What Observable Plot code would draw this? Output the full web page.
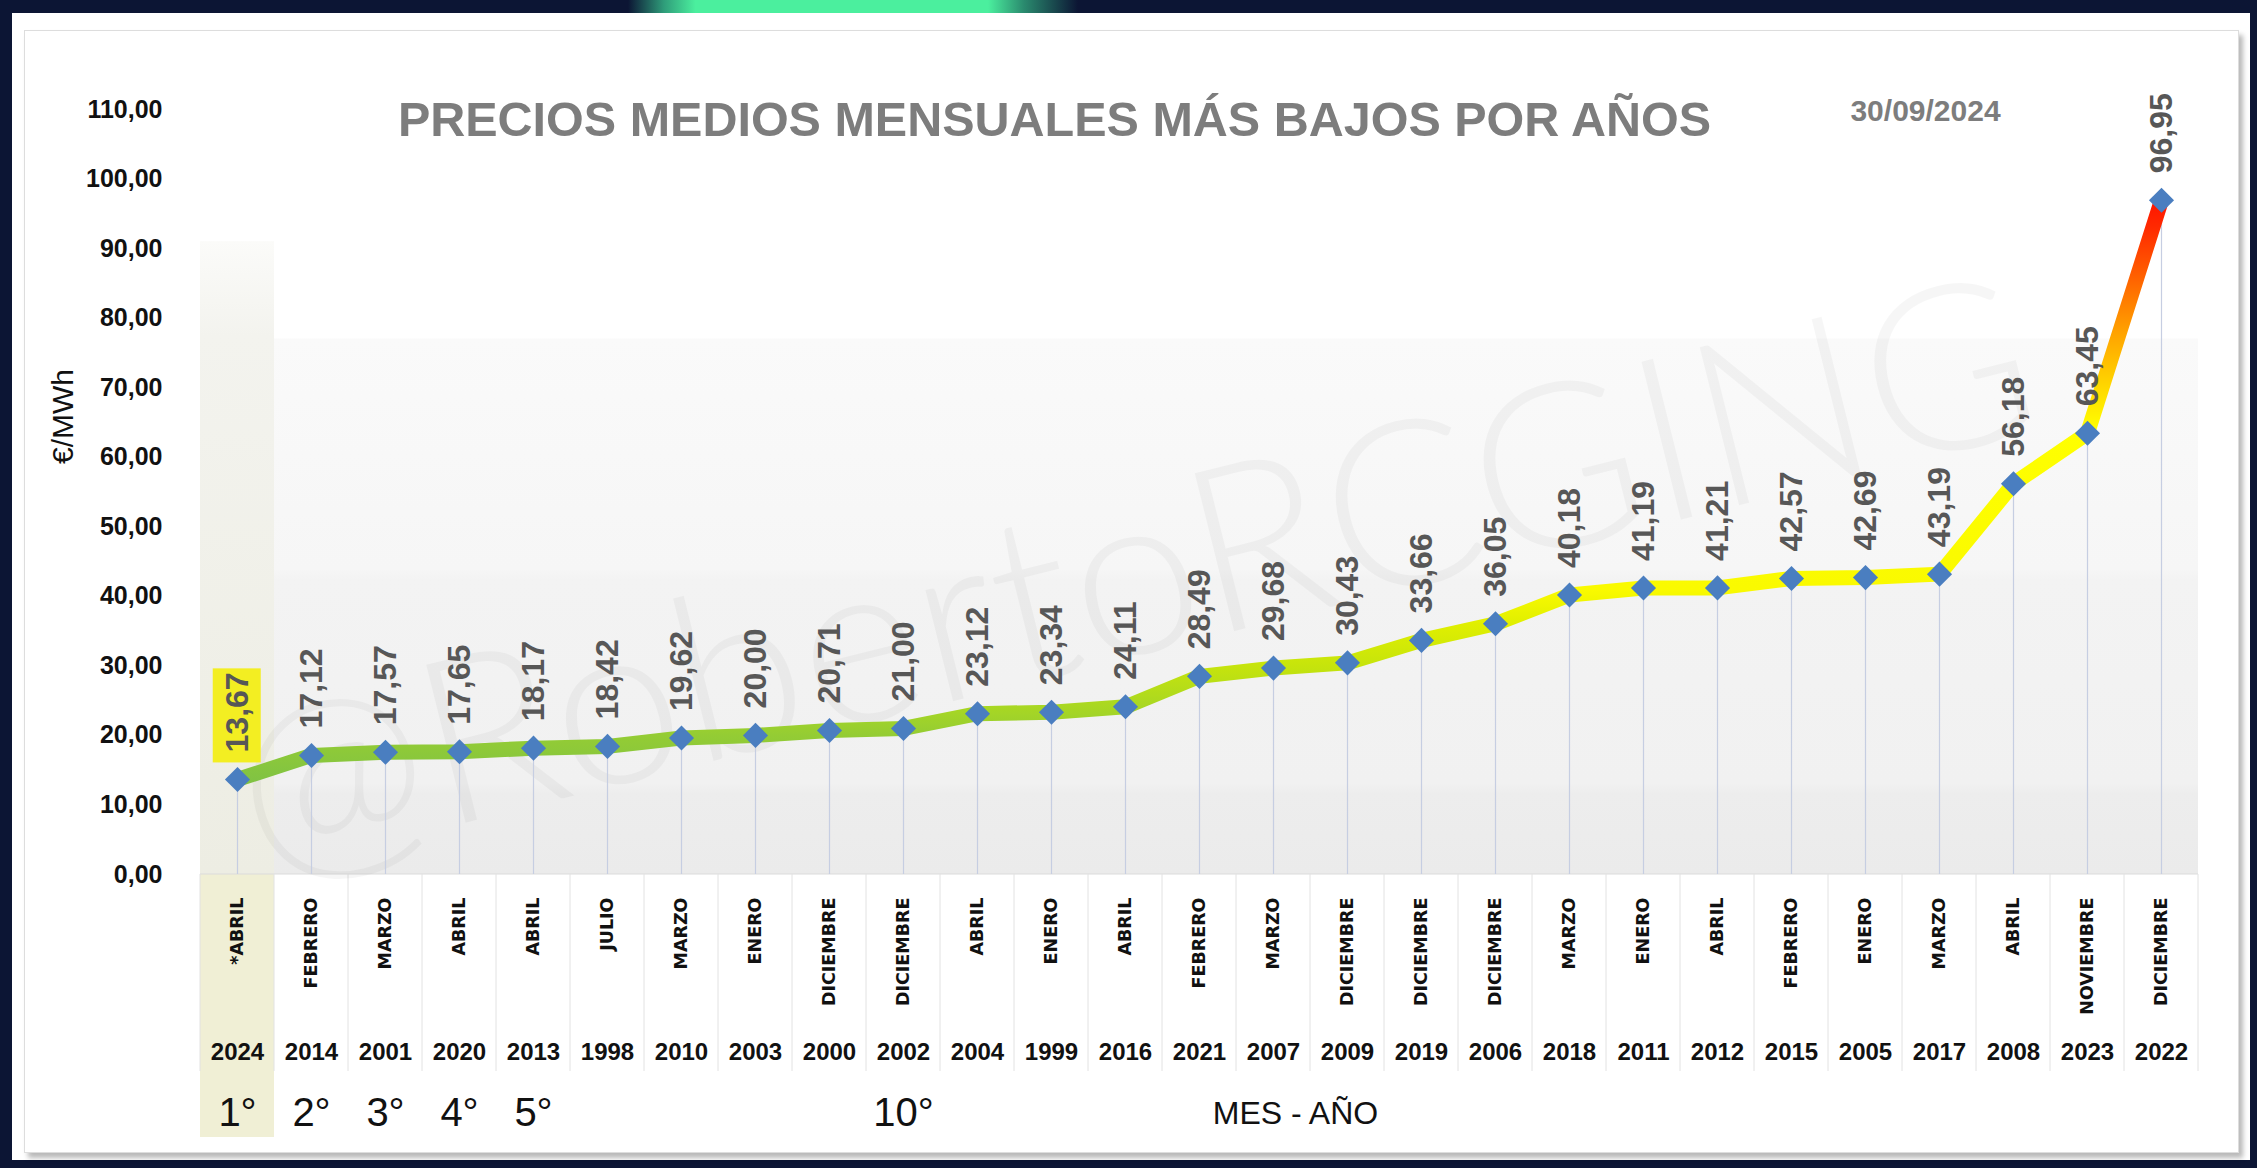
<!DOCTYPE html>
<html>
<head>
<meta charset="utf-8">
<script src="https://cdn.jsdelivr.net/npm/d3@7"></script>
<script src="https://cdn.jsdelivr.net/npm/@observablehq/plot@0.6"></script>
<style>
  html, body { margin: 0; padding: 0; background: #0c1534; }
  #page { position: relative; width: 2257px; height: 1168px; overflow: hidden; background: #0c1534; }
  #topbar { position: absolute; left: 628px; top: 0; width: 450px; height: 13px;
    background: linear-gradient(to right, #0c1534 0%, #2f9d7a 8%, #4bef9e 15%, #4bef9e 80%, #2a8a6e 88%, #0c1534 100%); }
  #card { position: absolute; left: 12px; top: 13px; width: 2238px; height: 1147px; background: #fff; }
  #panel { position: absolute; left: 24px; top: 30px; width: 2213px; height: 1121px; background: #fff;
    border: 1px solid #dddddd; box-shadow: 4px 5px 5px rgba(0,0,0,0.28); }
</style>
</head>
<body>
<div id="page">
  <div id="topbar"></div>
  <div id="card"></div>
  <div id="panel"></div>
</div>
<script>
// ---------------- DATA ----------------
const meses = ["*ABRIL","FEBRERO","MARZO","ABRIL","ABRIL","JULIO","MARZO","ENERO","DICIEMBRE","DICIEMBRE",
  "ABRIL","ENERO","ABRIL","FEBRERO","MARZO","DICIEMBRE","DICIEMBRE","DICIEMBRE","MARZO","ENERO",
  "ABRIL","FEBRERO","ENERO","MARZO","ABRIL","NOVIEMBRE","DICIEMBRE"];
const anios = ["2024","2014","2001","2020","2013","1998","2010","2003","2000","2002",
  "2004","1999","2016","2021","2007","2009","2019","2006","2018","2011",
  "2012","2015","2005","2017","2008","2023","2022"];
const precios = [13.67,17.12,17.57,17.65,18.17,18.42,19.62,20.00,20.71,21.00,
  23.12,23.34,24.11,28.49,29.68,30.43,33.66,36.05,40.18,41.19,
  41.21,42.57,42.69,43.19,56.18,63.45,96.95];
const puestos = ["1°","2°","3°","4°","5°","","","","","10°",
  "","","","","","","","","","",
  "","","","","","",""];
const yTicks = [0,10,20,30,40,50,60,70,80,90,100,110];
const titulo = "PRECIOS MEDIOS MENSUALES MÁS BAJOS POR AÑOS";
const fecha = "30/09/2024";
const ejeY = "€/MWh";
const ejeX = "MES - AÑO";
const marcaAgua = "@RobertoRCGING";

// ---------------- STYLE ----------------
const FONT = '"Liberation Sans", Arial, sans-serif';
const WIDE = '"DejaVu Sans", "Liberation Sans", sans-serif';
const fmt = v => v.toFixed(2).replace(".", ",");
const lineStops = [[13,"#7fc244"],[20,"#94cc34"],[24,"#a8d723"],[30,"#c6e40c"],[36,"#e0ef00"],[41,"#fafa00"],
  [64,"#ffff00"],[70,"#ffd800"],[78,"#ffa200"],[86,"#ff6000"],[93,"#ff2a00"],[97,"#ff1400"]];

const data = precios.map((p, i) => ({key: anios[i], mes: meses[i], anio: anios[i], precio: p,
  etiqueta: fmt(p), puesto: puestos[i]}));

const W = 2257, H = 1168;
const plot = Plot.plot({
  width: W, height: H,
  marginLeft: 190, marginRight: 49, marginTop: 109, marginBottom: 294,
  style: `background: transparent; position: absolute; left: 0; top: 0; overflow: visible; max-width: none; font-family: ${FONT};`,
  x: {type: "band", domain: anios, padding: 0, axis: null},
  y: {domain: [0, 110], axis: null},
  marks: [
    Plot.ruleX(data, {x: "key", y1: 0, y2: "precio", stroke: "#c6cee2", strokeWidth: 1.2}),
    Plot.line(data, {x: "key", y: "precio", stroke: "url(#lineGrad)", strokeWidth: 15, strokeLinejoin: "round"}),
    Plot.dot(data, {x: "key", y: "precio", symbol: "diamond2", r: 11.3, fill: "#4a7ec0", stroke: "none"}),
    Plot.text(data, {x: "key", y: "precio", text: "etiqueta", rotate: -90, textAnchor: "start", lineAnchor: "middle",
      dy: -27, fontSize: 32, fontWeight: "bold", fill: "#575757", fontFamily: FONT}),
    // y tick labels
    Plot.text(yTicks, {y: d => d, text: d => fmt(d), frameAnchor: "left", textAnchor: "end", lineAnchor: "middle",
      dx: -28, fontSize: 25, fontWeight: "bold", fill: "#111", fontFamily: FONT}),
    // month labels
    Plot.text(data, {x: "key", text: "mes", frameAnchor: "bottom", rotate: -90, textAnchor: "end", lineAnchor: "middle",
      dy: 23, fontSize: 17.5, fontWeight: "bold", fill: "#111", fontFamily: WIDE}),
    // year labels
    Plot.text(data, {x: "key", text: "anio", frameAnchor: "bottom", lineAnchor: "middle",
      dy: 178, fontSize: 24, fontWeight: "bold", fill: "#111", fontFamily: FONT}),
    // rank labels
    Plot.text(data, {x: "key", text: "puesto", frameAnchor: "bottom", lineAnchor: "middle",
      dy: 239, fontSize: 40, fill: "#111", fontFamily: FONT}),
    // axis titles
    Plot.text([ejeY], {text: d => d, frameAnchor: "left", rotate: -90, lineAnchor: "middle",
      dx: -127, dy: -28, fontSize: 30, fill: "#111", fontFamily: FONT}),
    Plot.text([ejeX], {text: d => d, frameAnchor: "bottom", lineAnchor: "middle",
      dx: 96, dy: 239, fontSize: 32, fill: "#111", fontFamily: FONT}),
    // title & date
    Plot.text([titulo], {text: d => d, frameAnchor: "top", lineAnchor: "middle",
      dx: -145, dy: 11, fontSize: 48.5, fontWeight: "bold", fill: "#7d7d7d", fontFamily: FONT}),
    Plot.text([fecha], {text: d => d, frameAnchor: "top", lineAnchor: "middle",
      dx: 726, dy: 2, fontSize: 30, fontWeight: "bold", fill: "#7d7d7d", fontFamily: FONT})
  ]
});
document.getElementById("page").appendChild(plot);

// ---------------- DECORATION (through Plot's scales) ----------------
const sx = plot.scale("x"), sy = plot.scale("y");
const bw = sx.bandwidth;
const X0 = k => sx.apply(k);
const Y = v => sy.apply(v);
const root = d3.select(plot);
const deco = root.insert("g", ":first-child").attr("class", "decor");
const defs = deco.append("defs");

const lo = lineStops[0][0], hi = lineStops[lineStops.length - 1][0];
const lg = defs.append("linearGradient").attr("id", "lineGrad").attr("gradientUnits", "userSpaceOnUse")
  .attr("x1", 0).attr("x2", 0).attr("y1", Y(lo)).attr("y2", Y(hi));
lineStops.forEach(([v, c]) => lg.append("stop").attr("offset", (v - lo) / (hi - lo)).attr("stop-color", c));

const bgTop = 77;
const bgG = defs.append("linearGradient").attr("id", "bgGrad").attr("x1", 0).attr("x2", 0).attr("y1", 0).attr("y2", 1);
[[0,"#fafafa"],[0.43,"#f6f6f6"],[0.45,"#f3f3f3"],[0.83,"#f1f1f1"],[0.85,"#ededed"],[1,"#ebebeb"]]
  .forEach(([o, c]) => bgG.append("stop").attr("offset", o).attr("stop-color", c));
const beG = defs.append("linearGradient").attr("id", "beigeGrad").attr("x1", 0).attr("x2", 0).attr("y1", 0).attr("y2", 1);
[[0,"#fbfbf9"],[0.15,"#f3f3ee"],[1,"#ededE3"]].forEach(([o, c]) => beG.append("stop").attr("offset", o).attr("stop-color", c));

const xStart = X0(anios[0]), xEnd = X0(anios[anios.length - 1]) + bw;
deco.append("rect").attr("x", X0(anios[1])).attr("width", xEnd - X0(anios[1]))
  .attr("y", Y(bgTop)).attr("height", Y(0) - Y(bgTop)).attr("fill", "url(#bgGrad)");
deco.append("rect").attr("x", xStart).attr("width", bw)
  .attr("y", Y(91)).attr("height", Y(0) - Y(91)).attr("fill", "url(#beigeGrad)");
deco.append("rect").attr("x", xStart).attr("width", bw)
  .attr("y", Y(0)).attr("height", 263).attr("fill", "#f0efd5");
// table grid
deco.append("line").attr("x1", xStart).attr("x2", xEnd).attr("y1", Y(0)).attr("y2", Y(0))
  .attr("stroke", "#dcdcdc").attr("stroke-width", 1.2);
for (let i = 0; i <= anios.length; i++) {
  const xx = i < anios.length ? X0(anios[i]) : xEnd;
  deco.append("line").attr("x1", xx).attr("x2", xx).attr("y1", Y(0)).attr("y2", Y(0) + 197)
    .attr("stroke", "#e2e2e2").attr("stroke-width", 1);
}
// watermark
deco.append("text").text(marcaAgua)
  .attr("transform", `translate(${(xStart + xEnd) / 2 - 60},${Y(40)}) rotate(-14)`)
  .attr("text-anchor", "middle").attr("dominant-baseline", "middle")
  .attr("font-family", "Lato, 'Open Sans', sans-serif").attr("font-weight", 300)
  .attr("font-size", 230).attr("fill", "#000").attr("fill-opacity", 0.035);

// yellow highlight behind the record label
const rec = root.selectAll("text").filter(function() { return this.textContent === fmt(precios[0]); }).node();
if (rec) {
  const b = rec.getBoundingClientRect(), s = plot.getBoundingClientRect();
  const r = document.createElementNS("http://www.w3.org/2000/svg", "rect");
  r.setAttribute("x", b.left - s.left - 6);
  r.setAttribute("y", b.top - s.top - 4);
  r.setAttribute("width", b.width + 12);
  r.setAttribute("height", b.height + 14);
  r.setAttribute("fill", "#f3ee22");
  plot.insertBefore(r, rec.parentNode);
}
</script>
</body>
</html>
